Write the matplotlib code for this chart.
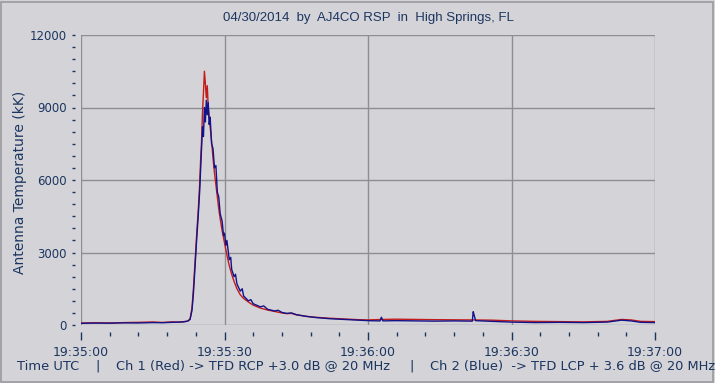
import matplotlib
matplotlib.use("Agg")
import matplotlib.pyplot as plt
from matplotlib.ticker import MultipleLocator, FixedLocator
from matplotlib.patches import Rectangle

# ---- data (seconds after 19:35:00, antenna temperature in kK) ----
red_t = [0, 3, 6, 9, 12, 15, 17, 19, 20.5, 21.5, 22.3, 22.8, 23.2, 23.5, 23.9, 24.2, 24.5, 24.8,
         25.0, 25.2, 25.4, 25.6, 25.8, 26.0, 26.2, 26.4, 26.6, 26.8, 27.0, 27.3, 27.6, 27.9, 28.2,
         28.5, 28.8, 29.1, 29.5, 30.0, 30.5, 31.0, 31.5, 32.0, 32.6, 33.3, 34.0, 35, 36, 37.5, 39,
         40.5, 42, 43, 44, 45, 47, 49, 52, 55, 58, 60, 63, 66, 70, 74, 78, 82, 86, 90, 95, 100,
         105, 110, 113, 115, 117, 120]
red_v = [80, 95, 85, 100, 110, 125, 105, 130, 120, 140, 160, 250, 700, 1500, 2800, 3800, 4700, 5800,
         6800, 7600, 8800, 9600, 10500, 10000, 9400, 9900, 9000, 8600, 8200, 7600, 6900, 6300, 5800,
         5300, 4800, 4400, 3900, 3400, 2900, 2450, 2100, 1800, 1500, 1250, 1100, 950, 820, 700, 620,
         560, 500, 470, 480, 420, 360, 320, 280, 250, 220, 210, 230, 240, 230, 220, 215, 210, 200, 170,
         150, 140, 130, 150, 230, 210, 150, 140]

blue_t = [0, 3, 6, 9, 12, 15, 17, 19, 20.5, 21.5, 22.3, 22.8, 23.2, 23.5, 23.9, 24.2, 24.5, 24.8,
          25.0, 25.2, 25.4, 25.6, 25.8, 26.0, 26.2, 26.4, 26.6, 26.8, 27.0, 27.3, 27.6, 27.9, 28.2,
          28.5, 28.8, 29.1, 29.5, 29.8, 30.0, 30.3, 30.5, 31.0, 31.3, 31.5, 32.0, 32.3, 32.6, 33.3,
          33.7, 34.0, 35, 35.5, 36, 37.5, 38.2, 39, 40.5, 41.2, 42, 43, 44, 45, 47, 49, 52, 55, 58, 60,
          62.5, 62.8, 63.1, 66, 70, 74, 78, 81.8, 82.0, 82.2, 82.5, 86, 90, 95, 100, 105, 110, 113, 115,
          117, 120]
blue_v = [70, 80, 75, 90, 85, 100, 95, 110, 120, 130, 160, 230, 600, 1300, 2600, 3600, 4500, 5500,
          6400, 7300, 8200, 7800, 9000, 8400, 9300, 8700, 9200, 8300, 8600, 7500, 7300, 6500, 6600,
          5500, 5300, 4600, 4300, 3700, 3800, 3300, 3500, 2700, 2800, 2300, 2000, 2100, 1700, 1400,
          1500, 1200, 1000, 1050, 880, 750, 790, 650, 580, 610, 520, 480, 500, 430, 360, 310, 260, 230,
          200, 180, 170, 320, 170, 180, 170, 160, 170, 160, 550, 400, 180, 150, 120, 100, 110, 100, 120,
          200, 170, 110, 100]

x_ticks = [0, 30, 60, 90, 120]
x_tick_labels = ["19:35:00", "19:35:30", "19:36:00", "19:36:30", "19:37:00"]
y_ticks = [0, 3000, 6000, 9000, 12000]

title = "04/30/2014  by  AJ4CO RSP  in  High Springs, FL"
ylabel = "Antenna Temperature (kK)"
footer_parts = ["Time UTC", "|", "Ch 1 (Red) -> TFD RCP +3.0 dB @ 20 MHz", "|",
                "Ch 2 (Blue)  -> TFD LCP + 3.6 dB @ 20 MHz"]

# ---- style ----
bg = "#d4d4d8"
grid_c = "#8e8e92"
txt_c = "#1c3560"
plt.rcParams['font.family'] = ['DejaVu Sans']

fig = plt.figure(figsize=(7.15, 3.83), dpi=100, facecolor=bg)
ax = fig.add_axes([81/715, 1-325/383, (655-81)/715, (325-35)/383])
ax.set_facecolor(bg)

ax.plot(red_t, red_v, color="#c41a1a", lw=1.0, zorder=3)
ax.plot(blue_t, blue_v, color="#12128a", lw=1.0, zorder=4)

ax.set_xlim(0, 120)
ax.set_ylim(0, 12000)
ax.xaxis.set_major_locator(FixedLocator(x_ticks))
ax.set_xticklabels(x_tick_labels)
ax.xaxis.set_minor_locator(MultipleLocator(6))
ax.yaxis.set_major_locator(FixedLocator(y_ticks))
ax.set_yticklabels([str(v) for v in y_ticks])
ax.yaxis.set_minor_locator(MultipleLocator(500))

ax.grid(True, which="major", color=grid_c, lw=1.0, zorder=1)
for s in ax.spines.values():
    s.set_visible(False)
ax.spines['bottom'].set_position(('outward', 5))
ax.spines['left'].set_position(('outward', 4))

ax.tick_params(axis='x', which='major', length=6, width=1, color=txt_c, labelcolor=txt_c,
               labelsize=9, pad=4)
ax.tick_params(axis='x', which='minor', length=3, width=1, color=txt_c)
ax.tick_params(axis='y', which='major', length=2, width=1, color=txt_c, labelcolor=txt_c,
               labelsize=8.5, pad=4)
ax.tick_params(axis='y', which='minor', length=2, width=1, color=txt_c)

fig.text(368/715, 1-18/383, title, ha='center', va='center', color=txt_c, fontsize=9.5,
         family='Liberation Sans')
fig.text(20/715, 1-182/383, ylabel, ha='center', va='center', rotation=90, color=txt_c, fontsize=10)

fy = 1 - 366/383
fs = 9.4
fig.text(17/715, fy, footer_parts[0], ha='left', va='center', color=txt_c, fontsize=fs)
fig.text(98/715, fy, footer_parts[1], ha='center', va='center', color=txt_c, fontsize=fs)
fig.text(116/715, fy, footer_parts[2], ha='left', va='center', color=txt_c, fontsize=fs)
fig.text(412/715, fy, footer_parts[3], ha='center', va='center', color=txt_c, fontsize=fs)
fig.text(430/715, fy, footer_parts[4], ha='left', va='center', color=txt_c, fontsize=fs)

fig.patches.append(Rectangle((0.002, 0.003), 0.995, 0.993, transform=fig.transFigure,
                             fill=False, edgecolor="#9a9a9e", lw=1.2))

fig.savefig("out.png", dpi=100, facecolor=bg)
